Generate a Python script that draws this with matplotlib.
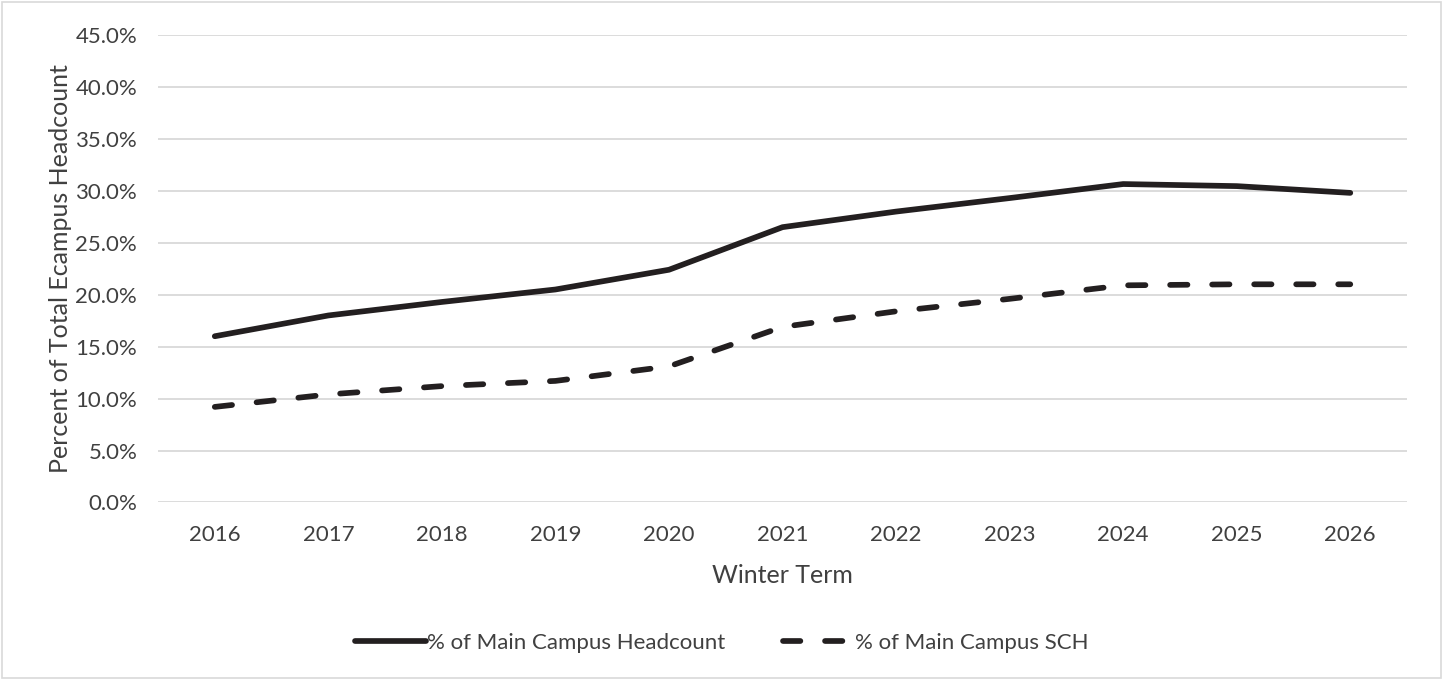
import matplotlib.pyplot as plt
from matplotlib.patches import Rectangle
from matplotlib.ticker import PercentFormatter

plt.rcParams['font.family'] = ['Lato', 'DejaVu Sans']

# Data
years = ['2016', '2017', '2018', '2019', '2020', '2021',
         '2022', '2023', '2024', '2025', '2026']
headcount_pct = [16.0, 18.0, 19.3, 20.5, 22.4, 26.5, 28.0, 29.3, 30.65, 30.45, 29.8]
sch_pct = [9.2, 10.4, 11.2, 11.7, 13.1, 16.9, 18.4, 19.6, 20.9, 21.0, 21.0]

text_color = '#404040'
line_color = '#231f20'
grid_color = '#d9d9d9'

fig = plt.figure(figsize=(14.43, 6.79), dpi=100)
ax = fig.add_axes([0.1095, 0.260, 0.8656, 0.6885])

x = range(len(years))
ax.plot(x, headcount_pct, color=line_color, lw=4.1, solid_capstyle='round',
        solid_joinstyle='round', label='% of Main Campus Headcount')
ax.plot(x, sch_pct, color=line_color, lw=4.1, dash_capstyle='round',
        dashes=(3.05, 4.33), label='% of Main Campus SCH')

ax.set_xlim(-0.5, len(years) - 0.5)
ax.set_ylim(0, 45)
ax.set_yticks([5 * i for i in range(10)])
ax.yaxis.set_major_formatter(PercentFormatter(decimals=1))
ax.set_xticks(list(x))
ax.set_xticklabels(years)
ax.grid(axis='y', color=grid_color, lw=1.3)
ax.set_axisbelow(True)
for s in ax.spines.values():
    s.set_visible(False)
ax.tick_params(length=0, labelsize=16, colors=text_color)
ax.tick_params(axis='x', pad=16)
ax.tick_params(axis='y', pad=15)

ax.set_xlabel('Winter Term', fontsize=18, color=text_color, labelpad=14)
ax.set_ylabel('Percent of Total Ecampus Headcount', fontsize=18,
              color=text_color)
ax.yaxis.set_label_coords(-0.069, 0.5)

leg = fig.legend(loc='center', bbox_to_anchor=(0.5, 0.053), ncol=2,
                 frameon=False, fontsize=16, handlelength=3.2,
                 handletextpad=0.05, columnspacing=2.6)
for t in leg.get_texts():
    t.set_color(text_color)

fig.patches.append(Rectangle((0.0015, 0.002), 0.997, 0.995, transform=fig.transFigure,
                             fill=False, edgecolor=grid_color, lw=1.2))

fig.savefig('out.png', dpi=100)
